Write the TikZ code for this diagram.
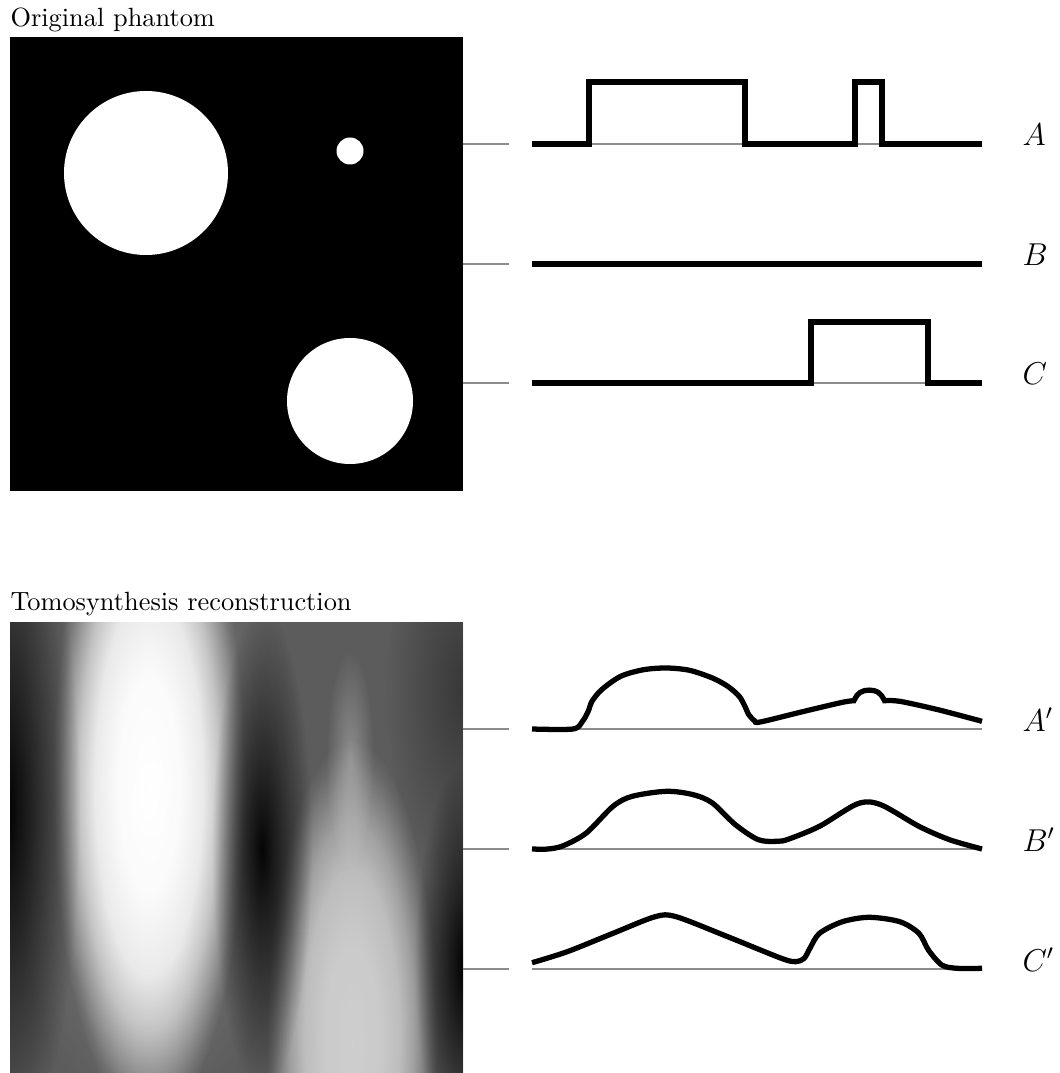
\documentclass[tikz,border=0pt]{standalone}
\usetikzlibrary{fadings}
\tikzfading[name=softblob, inner color=transparent!0, outer color=transparent!100]
\pgfdeclareradialshading{smoothshade}{\pgfpointorigin}{color(0bp)=(white); color(8bp)=(white!97!black);
  color(14bp)=(white!85!black); color(18bp)=(white!60!black); color(21bp)=(white!33!black);
  color(23.5bp)=(white!10!black); color(25bp)=(black); color(50bp)=(black)}
\pgfdeclarefading{smoothblob}{\pgfuseshading{smoothshade}}

\begin{document}
\begin{tikzpicture}[x=0.3795pt, y=-0.3795pt,
  profile/.style={line width=2pt, black, line join=miter},
  tick/.style={black!45, line width=0.5pt},
  lbl/.style={anchor=base west, inner sep=0pt, font=\large},
  ttl/.style={anchor=base west, inner sep=0pt},
  blob/.style={path fading=softblob},
  glow/.style={path fading=smoothblob}
]
\useasboundingbox (0,0) rectangle (1059,1073);

% ===== Original phantom =====
\node[ttl] (ttlorig) at (10,27) {Original phantom};
\fill[black] (10,37) rectangle (463,491);
\fill[white] (146,173) circle (82);
\fill[white] (350,151) circle (13.5);
\fill[white] (350,401) circle (63);

% ===== Tomosynthesis reconstruction =====
\node[ttl] (ttlrecon) at (10,610) {Tomosynthesis reconstruction};
\begin{scope}
  \clip (10,622) rectangle (463,1073);
  \fill[black!64] (10,622) rectangle (463,1073);
  % bright column (large disc)
  \fill[white, blob, opacity=0.25] (150,800) ellipse (150 and 330);
  \fill[white, glow] (149,785) ellipse (96 and 340);
  % lighter column (lower disc)
  \fill[white, glow, opacity=0.7] (352,1040) ellipse (85 and 300);
  \fill[white, blob, opacity=0.3] (350,760) ellipse (24 and 110);
  % dark streaks
  \fill[black, blob] (5,810) ellipse (75 and 340);
  \fill[black, blob, opacity=0.95] (262,850) ellipse (50 and 240);
  \fill[black, blob] (465,965) ellipse (50 and 200);
  \fill[black, blob, opacity=0.4] (465,690) ellipse (80 and 200);
\end{scope}

% ===== Guide lines and labels =====
\foreach \y/\name/\tag in {144/A/a, 264/B/b, 383/C/c, 729/A'/ar, 849/B'/br, 969/C'/cr}{
  \draw[tick] (463,\y) -- (509,\y);
  \draw[tick] (532,\y) -- (982,\y);
  \node[lbl] (lbl\tag) at (1022,\y+2) {$\name$};
}

% ===== Profiles through the phantom =====
\draw[profile] (532,144) -- (589,144) -- (589,82) -- (745,82) -- (745,144)
  -- (855,144) -- (855,82) -- (882,82) -- (882,144) -- (982,144);
\draw[profile] (532,264) -- (982,264);
\draw[profile] (532,383) -- (811,383) -- (811,322) -- (928,322) -- (928,383) -- (982,383);

% ===== Profiles through the reconstruction =====
\draw[profile, shift={(0,729)}] plot[smooth, tension=0.5] coordinates {
  (532,0) (573,0) (582.5,-7.7) (588.2,-17.7) (592,-27.7) (601.6,-39.3) (620.7,-52.7)
  (643.6,-59.3) (666.6,-61) (689.5,-58.7) (712.4,-51) (727.7,-42.7) (739.2,-32.7)
  (744.9,-22.7) (748.8,-14.3) (754.5,-8.3) (760.2,-7) (804.2,-17.7) (842.4,-26.7)
  (853.9,-28.3)}
  -- plot[smooth, tension=0.6] coordinates {(853.9,-28.3) (856.9,-33.5) (860,-36.5)
  (864.5,-38.4) (869.2,-38.9) (873.8,-38.4) (878.4,-36.5) (881.5,-33.5) (884.5,-28.3)}
  -- plot[smooth, tension=0.5] coordinates {(884.5,-28.3) (899.8,-27.7) (938,-19.3)
  (982,-7.7)};
\draw[profile, shift={(0,849)}] plot[smooth, tension=0.5] coordinates {
  (532,0) (548,0) (563.3,-3.3) (586.3,-16) (613,-42.7) (632.2,-52.7) (666.6,-57.7)
  (693.3,-54.3) (712.4,-46) (735.4,-24.3) (758.3,-9.3) (777.4,-7.7) (788.9,-10)
  (819.5,-22.7) (857.7,-45.3) (880.7,-44.3) (918.9,-22.7) (949.5,-9.3) (982,0)};
\draw[profile, shift={(0,969)}] plot[smooth, tension=0.5] coordinates {
  (532,-6.3) (567.2,-17.3) (613,-35.7) (655.1,-52.3) (676.1,-52.3) (727.7,-32.3)
  (781.3,-10.7) (795.8,-7.3) (804.2,-10.7) (809.9,-20.7) (819.5,-35.7) (842.4,-47.3)
  (869.2,-51.7) (899.8,-47.3) (918.9,-35.7) (928.4,-19) (941.8,-4) (957.1,-0.7)
  (982,-0.7)};
\end{tikzpicture}
\end{document}
